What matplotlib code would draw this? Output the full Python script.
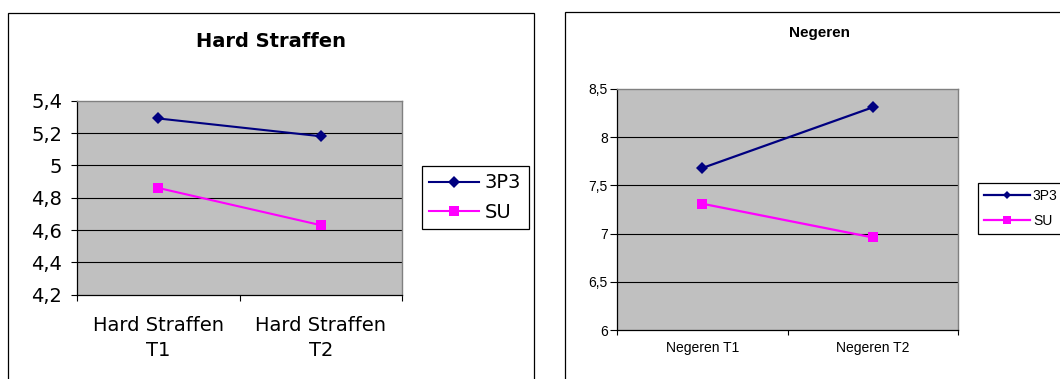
import matplotlib
matplotlib.use("Agg")
import matplotlib.pyplot as plt
from matplotlib.patches import Rectangle

# ---------------- data ----------------
series_names = ["3P3", "SU"]

left_title = "Hard Straffen"
left_categories = ["Hard Straffen\nT1", "Hard Straffen\nT2"]
left_3p3 = [5.29, 5.18]
left_su = [4.86, 4.63]
left_yticks = [4.2, 4.4, 4.6, 4.8, 5.0, 5.2, 5.4]
left_yticklabels = ["4,2", "4,4", "4,6", "4,8", "5", "5,2", "5,4"]

right_title = "Negeren"
right_categories = ["Negeren T1", "Negeren T2"]
right_3p3 = [7.68, 8.31]
right_su = [7.31, 6.96]
right_yticks = [6.0, 6.5, 7.0, 7.5, 8.0, 8.5]
right_yticklabels = ["6", "6,5", "7", "7,5", "8", "8,5"]

# ---------------- style ----------------
NAVY = "#000080"
MAGENTA = "#FF00FF"
PLOTBG = "#C0C0C0"
W, H = 1060, 379

fig = plt.figure(figsize=(W / 100, H / 100), dpi=100)
fig.patch.set_facecolor("white")


def fx(px):
    return px / W


def fy(py):
    return 1 - py / H


# outer chart frames (partly outside the figure, like the cropped source)
fig.patches.append(Rectangle((fx(8), fy(379 + 50)), fx(534 - 8), (379 + 50 - 13.3) / H,
                             transform=fig.transFigure, fill=False, edgecolor="black",
                             linewidth=0.9, clip_on=False))
fig.patches.append(Rectangle((fx(565), fy(379 + 50)), fx(600), (379 + 50 - 11.7) / H,
                             transform=fig.transFigure, fill=False, edgecolor="black",
                             linewidth=0.9, clip_on=False))


def setup_axes(ax, categories, yticks, yticklabels, fontfamily, fontsize,
               ytick_len, ytick_pad, xtick_len, xlab_pad, linespacing):
    n = len(categories)
    ax.set_facecolor(PLOTBG)
    ax.set_xlim(-0.5, n - 0.5)
    ax.set_ylim(yticks[0], yticks[-1])
    for y in yticks[1:-1]:
        ax.axhline(y, color="black", linewidth=0.8, zorder=1)
    ax.set_yticks(yticks)
    ax.set_yticklabels(yticklabels, fontfamily=fontfamily, fontsize=fontsize)
    ax.tick_params(axis="y", direction="out", length=ytick_len, width=0.8,
                   pad=ytick_pad, colors="black")
    ax.set_xticks([i - 0.5 for i in range(n + 1)])
    ax.set_xticklabels([])
    ax.set_xticks(list(range(n)), minor=True)
    ax.set_xticklabels(categories, minor=True, fontfamily=fontfamily,
                       fontsize=fontsize, linespacing=linespacing)
    ax.tick_params(axis="x", which="major", direction="out", length=xtick_len,
                   width=0.8, colors="black")
    ax.tick_params(axis="x", which="minor", length=0, pad=xlab_pad)
    for s in ("top", "right"):
        ax.spines[s].set_color("#808080")
        ax.spines[s].set_linewidth(1.0)
    for s in ("left", "bottom"):
        ax.spines[s].set_color("black")
        ax.spines[s].set_linewidth(0.9)


# ---------------- left chart ----------------
axL = fig.add_axes([fx(77.3), fy(294.7), fx(402 - 77.3), (294.7 - 100.7) / H])
setup_axes(axL, left_categories, left_yticks, left_yticklabels, "DejaVu Sans", 14,
           ytick_len=4.5, ytick_pad=6.5, xtick_len=4.5, xlab_pad=15, linespacing=1.4)
xL = list(range(len(left_categories)))
axL.plot(xL, left_3p3, color=NAVY, linewidth=1.5, marker="D", markersize=6.5,
         markeredgewidth=0, label=series_names[0], zorder=3)
axL.plot(xL, left_su, color=MAGENTA, linewidth=1.5, marker="s", markersize=7.5,
         markeredgewidth=0, label=series_names[1], zorder=3)
fig.text(fx(271.5), fy(46.7), left_title, ha="center", va="baseline",
         fontsize=14, fontweight="bold", fontfamily="DejaVu Sans")
legL = axL.legend(loc="upper left", bbox_to_anchor=(fx(422), fy(166)),
                  bbox_transform=fig.transFigure, borderaxespad=0,
                  prop={"family": "DejaVu Sans", "size": 14},
                  handlelength=2.55, handletextpad=0.3, labelspacing=0.55,
                  borderpad=0.38, fancybox=False, framealpha=1, edgecolor="black")
legL.get_frame().set_linewidth(0.9)

# ---------------- right chart ----------------
axR = fig.add_axes([fx(617), fy(330), fx(958 - 617), (330 - 89) / H])
setup_axes(axR, right_categories, right_yticks, right_yticklabels, "Liberation Sans", 10,
           ytick_len=5, ytick_pad=1.5, xtick_len=3.5, xlab_pad=8, linespacing=1.2)
xR = list(range(len(right_categories)))
axR.plot(xR, right_3p3, color=NAVY, linewidth=1.6, marker="D", markersize=6,
         markeredgewidth=0, label=series_names[0], zorder=3)
axR.plot(xR, right_su, color=MAGENTA, linewidth=1.6, marker="s", markersize=7.5,
         markeredgewidth=0, label=series_names[1], zorder=3)
fig.text(fx(819), fy(37.3), right_title, ha="center", va="baseline",
         fontsize=11, fontweight="bold", fontfamily="Liberation Sans")
legR = axR.legend(loc="upper left", bbox_to_anchor=(fx(978), fy(183)),
                  bbox_transform=fig.transFigure, borderaxespad=0,
                  prop={"family": "Liberation Sans", "size": 10},
                  handlelength=3.3, handletextpad=0.2, labelspacing=0.75,
                  borderpad=0.45, fancybox=False, framealpha=1, edgecolor="black",
                  markerscale=0.7)
legR.get_frame().set_linewidth(0.9)

fig.savefig("out.png", dpi=100, facecolor="white")
